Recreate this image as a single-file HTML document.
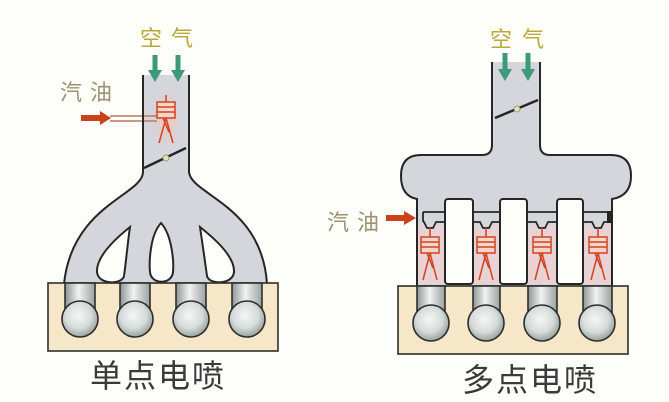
<!DOCTYPE html>
<html><head><meta charset="utf-8"><style>
html,body{margin:0;padding:0;background:#fdfdfa;}
svg{display:block;}
text{font-family:"Liberation Sans","Noto Sans CJK SC",sans-serif;}
</style></head><body>
<svg width="669" height="402" viewBox="0 0 669 402" xmlns="http://www.w3.org/2000/svg">
<defs>
<linearGradient id="tube" x1="0" x2="1" y1="0" y2="0">
<stop offset="0" stop-color="#8e9494"/><stop offset="0.45" stop-color="#f2f3f3"/><stop offset="1" stop-color="#9aa0a0"/>
</linearGradient>
<radialGradient id="ball" cx="0.45" cy="0.4" r="0.6">
<stop offset="0" stop-color="#f4f6f4"/><stop offset="0.6" stop-color="#d6dcda"/><stop offset="1" stop-color="#98a2a0"/>
</radialGradient>
<radialGradient id="pink" cx="0.5" cy="0.5" r="0.5">
<stop offset="0" stop-color="#f2c4bc" stop-opacity="0.9"/><stop offset="1" stop-color="#f2c4bc" stop-opacity="0"/>
</radialGradient>
</defs>
<rect width="669" height="402" fill="#fdfdfa"/>

<!-- ===== LEFT: single point ===== -->
<path d="M143,75 L143,172 C143,195 72,205 64,284 L267,284 C262,205 191,195 189,172 L189,75 Z" fill="#d4d6dc"/>
<path d="M143,75 L143,172 C143,195 72,205 64,284" fill="none" stroke="#262626" stroke-width="2"/>
<path d="M189,75 L189,172 C191,195 262,205 267,284" fill="none" stroke="#262626" stroke-width="2"/>
<!-- holes -->
<path d="M130,227 C120,235 96,255 97,272 C98,285 122,285 124,276 C126,262 128,240 130,227 Z" fill="#fdfdfa" stroke="#262626" stroke-width="2"/>
<path d="M161,223 C150,235 149,262 150,272 C151,285 172,285 173,272 C174,262 172,235 161,223 Z" fill="#fdfdfa" stroke="#262626" stroke-width="2"/>
<path d="M200,227 C202,240 205,262 207,276 C209,285 233,285 234,272 C235,255 210,235 200,227 Z" fill="#fdfdfa" stroke="#262626" stroke-width="2"/>
<!-- injector glow -->
<ellipse cx="166" cy="120" rx="16" ry="30" fill="url(#pink)"/>
<!-- fuel pipe -->
<line x1="110" y1="116" x2="157" y2="116" stroke="#b87860" stroke-width="1.6"/>
<line x1="110" y1="121" x2="157" y2="121" stroke="#b87860" stroke-width="1.6"/>
<line x1="143" y1="75" x2="143" y2="172" stroke="#262626" stroke-width="2"/>
<!-- injector -->
<g stroke="#d04424" stroke-width="1.5" fill="none">
<line x1="166" y1="95" x2="166" y2="102"/>
<rect x="157" y="102" width="18" height="16" fill="#f6d6c8"/>
<line x1="157" y1="107" x2="175" y2="107"/>
<line x1="157" y1="112" x2="175" y2="112"/>
<line x1="166" y1="118" x2="159" y2="143"/>
<line x1="166" y1="118" x2="173" y2="143"/>
<line x1="163" y1="118" x2="169" y2="132"/>
</g>
<!-- red arrow -->
<path d="M81,115 L100,115 L100,111 L111,118 L100,125 L100,121 L81,121 Z" fill="#c9421c"/>
<!-- throttle -->
<line x1="144" y1="168" x2="186" y2="148" stroke="#262626" stroke-width="2.5"/>
<circle cx="166" cy="158" r="3" fill="#e6e0b4" stroke="#8a8a6a" stroke-width="0.8"/>
<!-- green arrows -->
<path d="M152.5,55 L157.5,55 L157.5,70 L162,70 L155,82 L148,70 L152.5,70 Z" fill="#3c9a7a"/>
<path d="M175.5,55 L180.5,55 L180.5,70 L185,70 L178,82 L171,70 L175.5,70 Z" fill="#3c9a7a"/>
<text x="140" y="46" font-size="22" fill="#b9a93a" letter-spacing="9">空气</text>
<text x="60" y="100" font-size="22" fill="#9c9272" letter-spacing="8">汽油</text>
<!-- block -->
<rect x="48" y="283" width="230" height="68" fill="#f6e7c8" stroke="#2e2e2e" stroke-width="1.6"/>
<g stroke="#2e2e2e" stroke-width="1.6">
<rect x="65" y="283" width="30" height="32" fill="url(#tube)"/>
<rect x="120" y="283" width="30" height="32" fill="url(#tube)"/>
<rect x="176" y="283" width="30" height="32" fill="url(#tube)"/>
<rect x="232" y="283" width="30" height="32" fill="url(#tube)"/>
<circle cx="80" cy="319" r="18" fill="url(#ball)"/>
<circle cx="135" cy="319" r="18" fill="url(#ball)"/>
<circle cx="191" cy="319" r="18" fill="url(#ball)"/>
<circle cx="247" cy="319" r="18" fill="url(#ball)"/>
</g>
<text x="90" y="387" font-size="32" fill="#3a3a3a" letter-spacing="2">单点电喷</text>

<!-- ===== RIGHT: multi point ===== -->
<path d="M492,62 L492,145 Q492,155 482,155 L421,155 Q401,155 401,176 Q401,196 417,199 L417,286 L612,286 L612,199 Q631,196 631,176 Q631,155 611,155 L550,155 Q540,155 540,145 L540,62 Z" fill="#d4d6dc"/>
<!-- pink glow around injectors -->
<rect x="418" y="226" width="26" height="58" fill="#e8d2d4"/>
<rect x="474" y="226" width="25" height="58" fill="#e8d2d4"/>
<rect x="528" y="226" width="28" height="58" fill="#e8d2d4"/>
<rect x="584" y="226" width="27" height="58" fill="#e8d2d4"/>
<path d="M492,62 L492,145 Q492,155 482,155 L421,155 Q401,155 401,176 Q401,196 417,199 L417,286" fill="none" stroke="#262626" stroke-width="2"/>
<path d="M540,62 L540,145 Q540,155 550,155 L611,155 Q631,155 631,176 Q631,196 612,199 L612,286" fill="none" stroke="#262626" stroke-width="2"/>
<!-- fuel rail -->
<g stroke="#262626" stroke-width="1.8" fill="none">
<line x1="423" y1="212" x2="612" y2="212"/>
<line x1="423" y1="212" x2="423" y2="222"/>
<path d="M423,222 L424,222 L427,228 L433,228 L436,222 L480,222 L483,228 L489,228 L492,222 L536,222 L539,228 L545,228 L548,222 L592,222 L595,228 L601,228 L604,222 L612,222"/>
</g>
<rect x="607" y="211" width="6" height="12" fill="#262626"/>
<!-- white gaps -->
<g fill="#fdfdfa" stroke="#262626" stroke-width="2">
<rect x="445" y="199" width="28" height="85" rx="3"/>
<rect x="500" y="199" width="27" height="85" rx="3"/>
<rect x="557" y="199" width="26" height="85" rx="3"/>
</g>
<!-- injectors -->
<g stroke="#d04424" stroke-width="1.5" fill="none">
<line x1="430" y1="228" x2="430" y2="237"/>
<rect x="421" y="237" width="18" height="16" fill="#f6d6c8"/>
<line x1="421" y1="242" x2="439" y2="242"/><line x1="421" y1="247" x2="439" y2="247"/>
<line x1="430" y1="253" x2="423" y2="280"/><line x1="430" y1="253" x2="437" y2="280"/><line x1="427" y1="253" x2="433" y2="268"/>
<line x1="486" y1="228" x2="486" y2="237"/>
<rect x="477" y="237" width="18" height="16" fill="#f6d6c8"/>
<line x1="477" y1="242" x2="495" y2="242"/><line x1="477" y1="247" x2="495" y2="247"/>
<line x1="486" y1="253" x2="479" y2="280"/><line x1="486" y1="253" x2="493" y2="280"/><line x1="483" y1="253" x2="489" y2="268"/>
<line x1="542" y1="228" x2="542" y2="237"/>
<rect x="533" y="237" width="18" height="16" fill="#f6d6c8"/>
<line x1="533" y1="242" x2="551" y2="242"/><line x1="533" y1="247" x2="551" y2="247"/>
<line x1="542" y1="253" x2="535" y2="280"/><line x1="542" y1="253" x2="549" y2="280"/><line x1="539" y1="253" x2="545" y2="268"/>
<line x1="598" y1="228" x2="598" y2="237"/>
<rect x="589" y="237" width="18" height="16" fill="#f6d6c8"/>
<line x1="589" y1="242" x2="607" y2="242"/><line x1="589" y1="247" x2="607" y2="247"/>
<line x1="598" y1="253" x2="591" y2="280"/><line x1="598" y1="253" x2="605" y2="280"/><line x1="595" y1="253" x2="601" y2="268"/>
</g>
<!-- red arrow -->
<path d="M386,215 L404,215 L404,211 L416,218 L404,225 L404,221 L386,221 Z" fill="#c9421c"/>
<text x="327" y="230" font-size="22" fill="#9c9272" letter-spacing="8">汽油</text>
<!-- throttle -->
<line x1="495" y1="118" x2="538" y2="100" stroke="#262626" stroke-width="2.5"/>
<circle cx="517" cy="109" r="3" fill="#e6e0b4" stroke="#8a8a6a" stroke-width="0.8"/>
<!-- green arrows -->
<path d="M502.5,53 L507.5,53 L507.5,69 L512,69 L505,81 L498,69 L502.5,69 Z" fill="#3c9a7a"/>
<path d="M525.5,53 L530.5,53 L530.5,69 L535,69 L528,81 L521,69 L525.5,69 Z" fill="#3c9a7a"/>
<text x="490" y="47" font-size="22" fill="#b9a93a" letter-spacing="10">空气</text>
<!-- block -->
<rect x="398" y="286" width="230" height="68" fill="#f6e7c8" stroke="#2e2e2e" stroke-width="1.6"/>
<g stroke="#2e2e2e" stroke-width="1.6">
<rect x="417" y="286" width="28" height="32" fill="url(#tube)"/>
<rect x="473" y="286" width="27" height="32" fill="url(#tube)"/>
<rect x="528" y="286" width="29" height="32" fill="url(#tube)"/>
<rect x="583" y="286" width="29" height="32" fill="url(#tube)"/>
<circle cx="431" cy="323" r="18" fill="url(#ball)"/>
<circle cx="486" cy="323" r="18" fill="url(#ball)"/>
<circle cx="542" cy="323" r="18" fill="url(#ball)"/>
<circle cx="597" cy="323" r="18" fill="url(#ball)"/>
</g>
<text x="462" y="391" font-size="32" fill="#3a3a3a" letter-spacing="2">多点电喷</text>
</svg>
</body></html>
